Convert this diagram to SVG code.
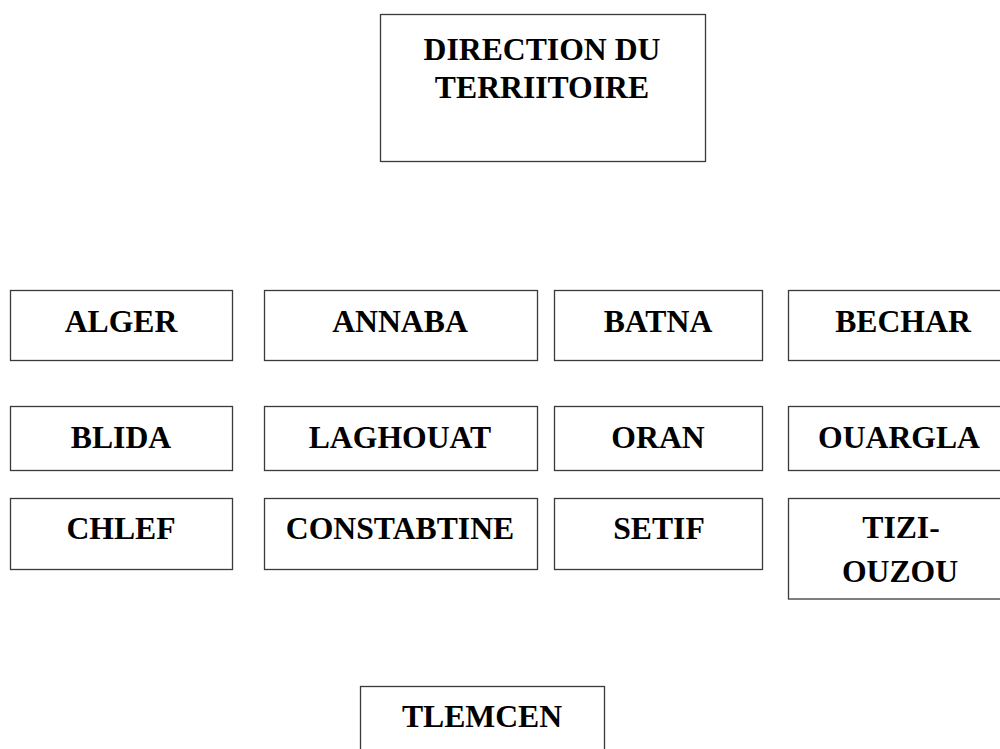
<svg xmlns="http://www.w3.org/2000/svg" width="1000" height="749" viewBox="0 0 1000 749">
<style>
.box{fill:#fff;stroke:#3a3a3a;stroke-width:1.3}
.t{font-family:"Liberation Serif","Times New Roman",serif;font-weight:bold;font-size:31.7px;text-anchor:middle;fill:#000}
</style>
<rect width="1000" height="749" fill="#fff"/>
<g id="connectors"></g>
<g id="direction"><rect class="box" x="380.5" y="14.5" width="325" height="147"/><text class="t" x="542" y="60">DIRECTION DU</text><text class="t" x="542" y="97.7">TERRIITOIRE</text></g>
<g id="alger"><rect class="box" x="10.5" y="290.5" width="222" height="70"/><text class="t" x="121" y="331.7">ALGER</text></g>
<g id="annaba"><rect class="box" x="264.5" y="290.5" width="273" height="70"/><text class="t" x="400" y="331.7">ANNABA</text></g>
<g id="batna"><rect class="box" x="554.5" y="290.5" width="208" height="70"/><text class="t" x="658" y="331.7">BATNA</text></g>
<g id="bechar"><rect class="box" x="788.5" y="290.5" width="232" height="70"/><text class="t" x="903" y="331.7">BECHAR</text></g>
<g id="blida"><rect class="box" x="10.5" y="406.5" width="222" height="64"/><text class="t" x="121" y="447.7">BLIDA</text></g>
<g id="laghouat"><rect class="box" x="264.5" y="406.5" width="273" height="64"/><text class="t" x="400" y="447.7">LAGHOUAT</text></g>
<g id="oran"><rect class="box" x="554.5" y="406.5" width="208" height="64"/><text class="t" x="658" y="447.7">ORAN</text></g>
<g id="ouargla"><rect class="box" x="788.5" y="406.5" width="232" height="64"/><text class="t" x="899" y="447.7">OUARGLA</text></g>
<g id="chlef"><rect class="box" x="10.5" y="498.5" width="222" height="71"/><text class="t" x="121" y="539.3">CHLEF</text></g>
<g id="constabtine"><rect class="box" x="264.5" y="498.5" width="273" height="71"/><text class="t" x="400" y="539.3">CONSTABTINE</text></g>
<g id="setif"><rect class="box" x="554.5" y="498.5" width="208" height="71"/><text class="t" x="659" y="539.3">SETIF</text></g>
<g id="tizi-ouzou"><rect class="box" x="788.5" y="498.5" width="232" height="100.5"/><text class="t" x="901" y="537.7">TIZI-</text><text class="t" x="900" y="581.7">OUZOU</text></g>
<g id="tlemcen"><rect class="box" x="360.5" y="686.5" width="244" height="80"/><text class="t" x="482" y="726.7">TLEMCEN</text></g>
</svg>
